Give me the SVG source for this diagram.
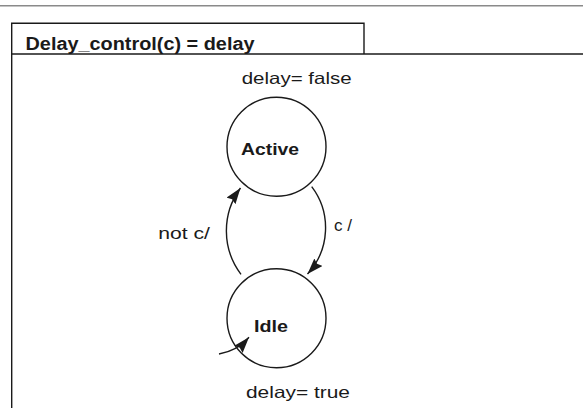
<svg xmlns="http://www.w3.org/2000/svg" width="583" height="408" viewBox="0 0 583 408">
<defs>
<style>
.t{font-family:"Liberation Sans",Arial,sans-serif;fill:#1a1a1a}
.b{font-weight:bold}
.ln{fill:none;stroke:#1a1a1a;stroke-width:1.4}
.st{fill:#fff;stroke:#1a1a1a;stroke-width:1.4}
</style>
<marker id="ah" markerUnits="userSpaceOnUse" markerWidth="18" markerHeight="13" refX="16" refY="5.5" orient="auto">
<path d="M0,0 L16,5.5 L0,11 L2,5.5 z" fill="#1a1a1a"/>
</marker>
</defs>
<g id="frame">
<line x1="0" y1="5.7" x2="583" y2="5.7" stroke="#8a8a8a" stroke-width="1.6"/>
<path class="ln" d="M11.7,408 V23.3 H364 V54"/>
<line class="ln" x1="11.7" y1="54" x2="583" y2="54"/>
<text class="t b" x="25.5" y="50" font-size="18" textLength="229" lengthAdjust="spacingAndGlyphs">Delay_control(c) = delay</text>
</g>
<g id="active">
<circle class="st" cx="276.5" cy="146.7" r="49.5"/>
<text class="t b" x="241" y="155" font-size="16.5" textLength="58" lengthAdjust="spacingAndGlyphs">Active</text>
<text class="t" x="241.7" y="84.3" font-size="16.5" textLength="110" lengthAdjust="spacingAndGlyphs">delay= false</text>
</g>
<g id="idle">
<circle class="st" cx="276.5" cy="318.3" r="49.5"/>
<text class="t b" x="254" y="331.7" font-size="16.5" textLength="34" lengthAdjust="spacingAndGlyphs">Idle</text>
<text class="t" x="246" y="397.7" font-size="16.5" textLength="104" lengthAdjust="spacingAndGlyphs">delay= true</text>
</g>
<g id="connectors">
<path class="ln" d="M311.7,186.7 A68,68 0 0 1 307.5,274" marker-end="url(#ah)"/>
<path class="ln" d="M241,274.3 A72,72 0 0 1 240.5,188" marker-end="url(#ah)"/>
<path class="ln" d="M219,354 Q237,351 249,337.3" marker-end="url(#ah)"/>
<text class="t" x="334" y="230.5" font-size="16.5" textLength="18" lengthAdjust="spacingAndGlyphs">c /</text>
<text class="t" x="158.3" y="239.3" font-size="16.5" textLength="51.7" lengthAdjust="spacingAndGlyphs">not c/</text>
</g>
</svg>
